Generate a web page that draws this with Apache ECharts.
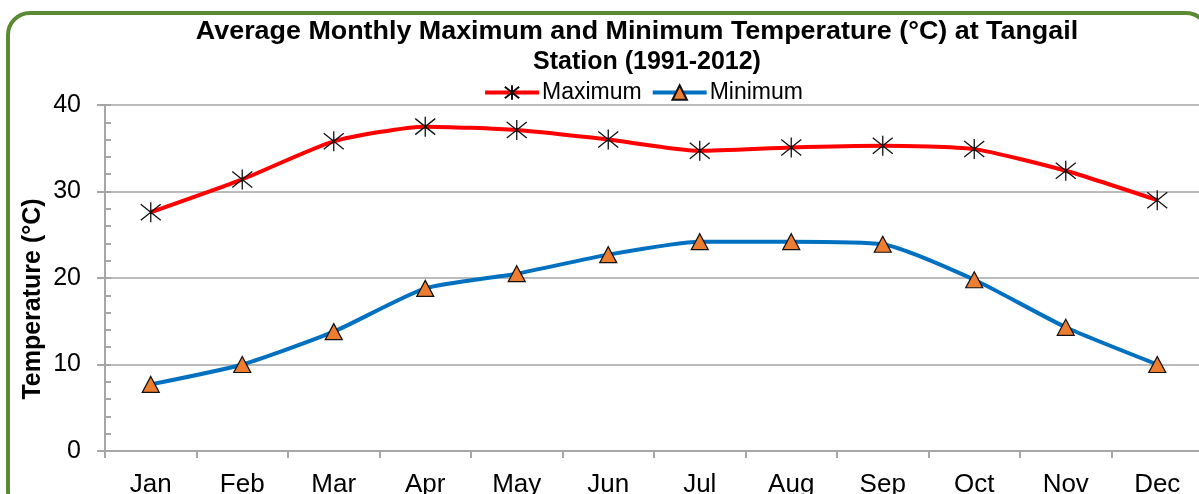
<!DOCTYPE html>
<html>
<head>
<meta charset="utf-8">
<script src="https://cdn.jsdelivr.net/npm/echarts@6/dist/echarts.min.js"></script>
<style>
html,body{margin:0;padding:0;background:#fff;}
#c{width:1199px;height:494px;}
</style>
</head>
<body>
<div id="c"></div>
<script>
const months = ['Jan','Feb','Mar','Apr','May','Jun','Jul','Aug','Sep','Oct','Nov','Dec'];
const maximum = [27.6, 31.4, 35.8, 37.5, 37.1, 36.0, 34.7, 35.1, 35.3, 34.9, 32.4, 29.0];
const minimum = [7.7, 10.0, 13.8, 18.8, 20.5, 22.7, 24.2, 24.2, 23.9, 19.8, 14.3, 10.0];
const yTicks = [0, 10, 20, 30, 40];

const FONT = '"Liberation Sans", Arial, sans-serif';
const chart = echarts.init(document.getElementById('c'), null, {renderer: 'canvas'});
const star = 'path://M10,0L10,20M0,2L20,18M0,18L20,2';

chart.setOption({
  animation: false,
  backgroundColor: '#fff',
  textStyle: {fontFamily: FONT},
  graphic: [
    {type: 'rect', z: 100, shape: {x: 8, y: 13, width: 1200, height: 500, r: 22},
     style: {fill: 'none', stroke: '#5a8a32', lineWidth: 4}},
    {type: 'text', x: 637, y: 32, scaleX: 1.075, style: {text: 'Average Monthly Maximum and Minimum Temperature (°C) at Tangail', font: 'bold 25px ' + FONT, fill: '#000', align: 'center', verticalAlign: 'middle'}},
    {type: 'text', x: 647, y: 62, style: {text: 'Station (1991-2012)', font: 'bold 25px ' + FONT, fill: '#000', align: 'center', verticalAlign: 'middle'}},
    {type: 'text', x: 33, y: 299, rotation: Math.PI / 2, style: {text: 'Temperature (°C)', font: 'bold 25px ' + FONT, fill: '#000', align: 'center', verticalAlign: 'middle'}}
  ],
  legend: {
    left: 478, top: 76, itemWidth: 54, itemHeight: 18, itemGap: 9,
    lineStyle: {width: 4},
    textStyle: {fontSize: 23, color: '#000', fontFamily: FONT, padding: [0,0,0,-2]},
    data: ['Maximum', 'Minimum']
  },
  grid: {left: 105, top: 105, width: 1098, height: 346, containLabel: false, outerBoundsMode: 'none'},
  xAxis: {
    type: 'category', data: months, boundaryGap: true,
    axisLine: {lineStyle: {color: '#a6a6a6', width: 2}},
    axisTick: {show: true, length: 7, lineStyle: {color: '#a6a6a6', width: 2}},
    axisLabel: {fontSize: 26, color: '#000', margin: 21, fontFamily: FONT, interval: 0}
  },
  yAxis: [
    {
      type: 'value', min: 0, max: 40, interval: 10,
      axisLine: {show: true, lineStyle: {color: '#a6a6a6', width: 2}},
      axisTick: {show: true, length: 8, lineStyle: {color: '#a6a6a6', width: 2}},
      splitLine: {show: true, lineStyle: {color: '#a6a6a6', width: 1.5}},
      axisLabel: {fontSize: 25, color: '#000', margin: 24, fontFamily: FONT,
        formatter: v => yTicks.includes(v) ? String(v) : ''}
    },
    {
      type: 'value', min: 0, max: 40, interval: 2, position: 'left',
      axisLine: {show: false},
      axisTick: {show: true, inside: true, length: 6, lineStyle: {color: '#a6a6a6', width: 2}},
      splitLine: {show: false},
      axisLabel: {show: false}
    }
  ],
  series: [
    {
      name: 'Maximum', type: 'line', data: maximum, smooth: 0.2,
      lineStyle: {color: '#ff0000', width: 4},
      symbol: star, symbolSize: 20,
      itemStyle: {color: 'rgba(0,0,0,0)', borderColor: '#111', borderWidth: 1.3},
      z: 3
    },
    {
      name: 'Minimum', type: 'line', data: minimum, smooth: 0.2,
      lineStyle: {color: '#0070c0', width: 4},
      symbol: 'triangle', symbolSize: [17, 16],
      itemStyle: {color: '#ed7d31', borderColor: '#111', borderWidth: 1.2},
      z: 3
    }
  ]
});
</script>
</body>
</html>
